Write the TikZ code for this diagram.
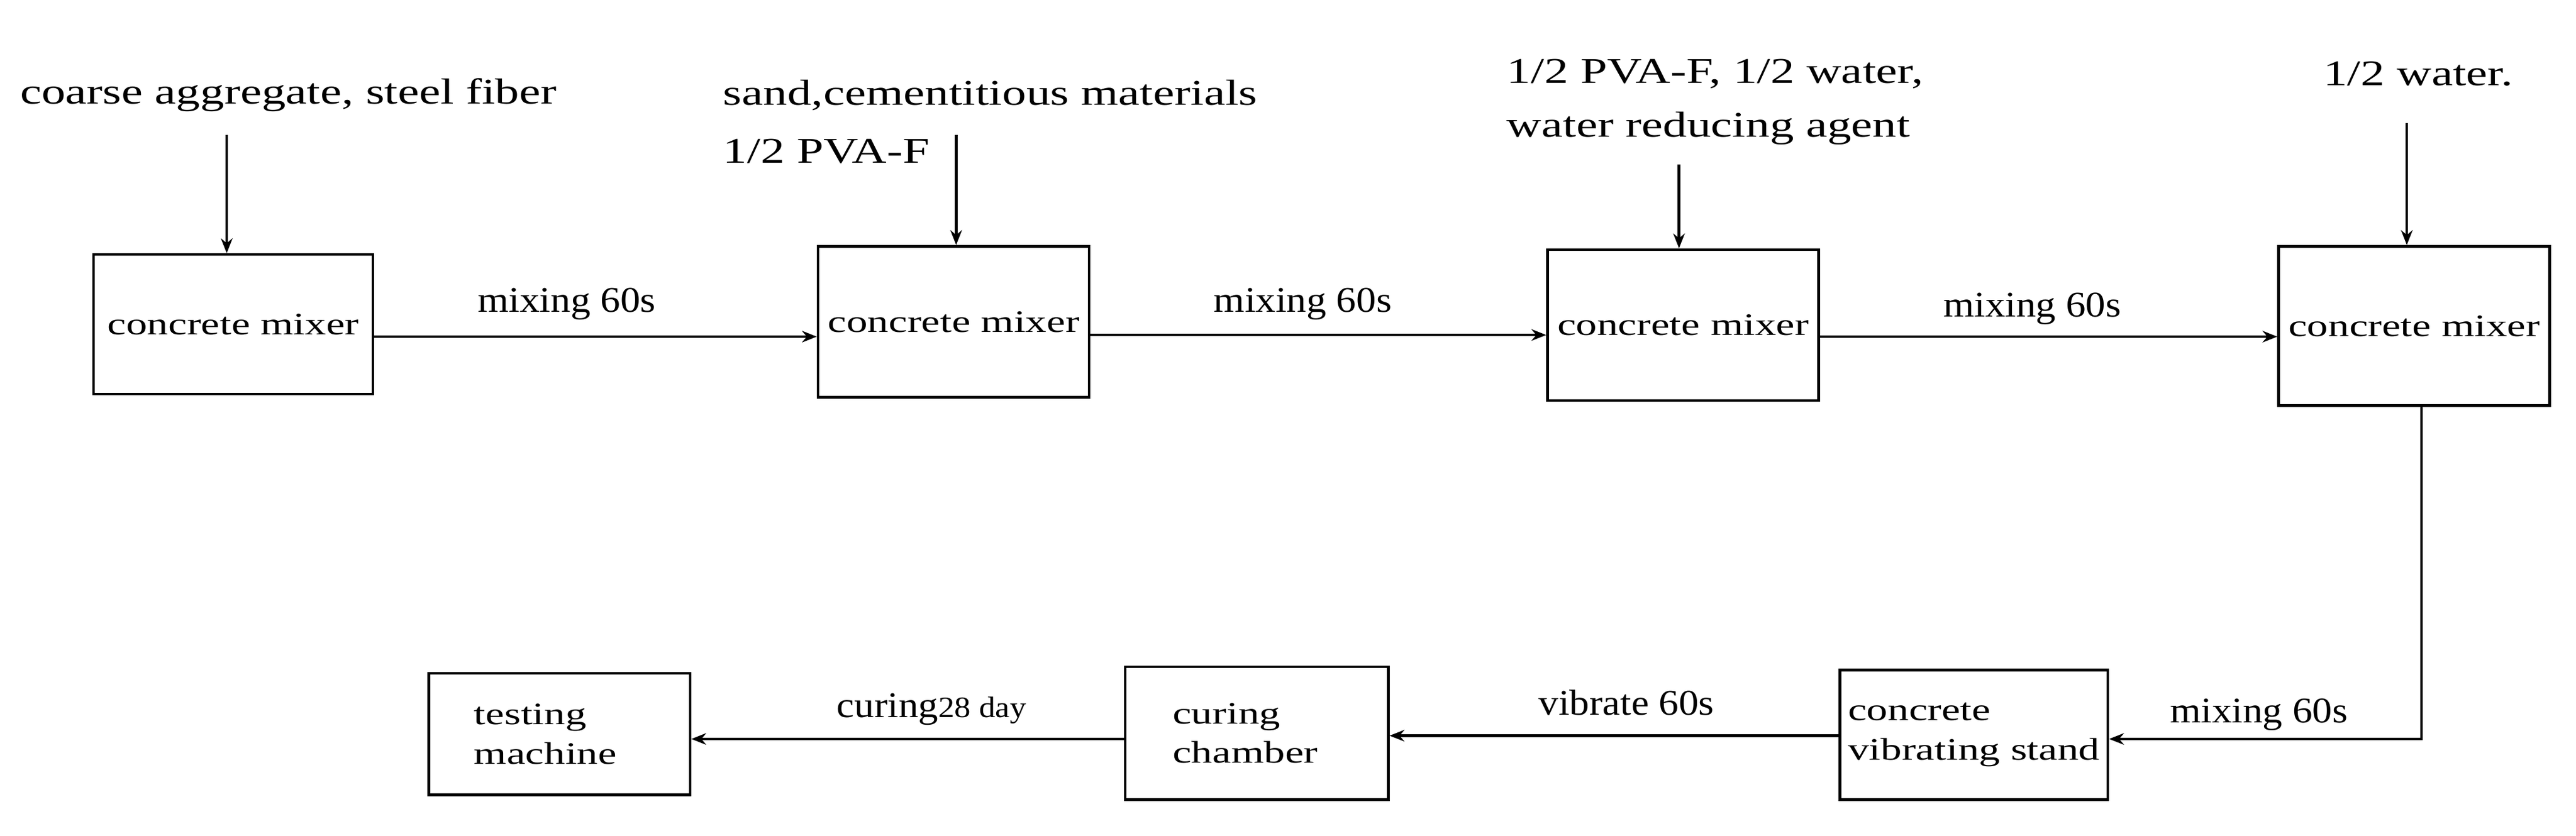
\documentclass[tikz,border=0pt]{standalone}
\usepackage{fontspec}
\setmainfont{Liberation Serif}
\usetikzlibrary{arrows.meta}
\begin{document}
\begin{tikzpicture}[x=1pt,y=-1pt,
  box/.style={draw,line width=1.6pt,minimum width=#1,inner sep=0pt},
  btxt/.style={font=\fontsize{19}{24}\selectfont,align=left,inner sep=0pt,xscale=1.35,transform shape},
  arr/.style={line width=1.6pt,-{Stealth[length=9pt,width=7pt]}},
  lab/.style={font=\fontsize{22}{24}\selectfont,inner sep=0pt,xscale=1.1,transform shape},
  top/.style={font=\fontsize{22}{24}\selectfont,inner sep=0pt,xscale=1.33,transform shape,anchor=west}]
\useasboundingbox (0,0) rectangle (1568,509);
\node[box=170pt,minimum height=85pt] (b1) at (142,197.5) {};
\node[box=165pt,minimum height=92pt] (b2) at (580.5,196) {};
\node[box=165pt,minimum height=92pt] (b3) at (1024.5,198) {};
\node[box=165pt,minimum height=97pt] (b4) at (1469.5,198.5) {};
\node[box=163pt,minimum height=79pt] (b5) at (1201.5,447.5) {};
\node[box=160pt,minimum height=81pt] (b6) at (765,446.5) {};
\node[box=159pt,minimum height=74pt] (b7) at (340.5,447) {};
\node[btxt] (x1) at (b1) {concrete mixer};
\node[btxt] (x2) at (b2) {concrete mixer};
\node[btxt] (x3) at (b3) {concrete mixer};
\node[btxt] (x4) at (b4) {concrete mixer};
\node[btxt] (x5) at (b5) {concrete\\vibrating stand};
\node[btxt] (x6) at (758,446.5) {curing\\chamber};
\node[btxt] (x7) at (332,447) {testing\\machine};
\draw[arr] (b1.east|-0,205) -- (b2.west|-0,205);
\node[lab] (l1) at (345,185) {mixing 60s};
\draw[arr] (b2.east|-0,204) -- (b3.west|-0,204);
\node[lab] (l2) at (793,185) {mixing 60s};
\draw[arr] (b3.east|-0,205) -- (b4.west|-0,205);
\node[lab] (l3) at (1237,188) {mixing 60s};
\coordinate (c1) at (1474,450);
\draw[arr] (b4.south-|c1) -- (c1) -- (b5.east|-c1);
\node[lab] (l4) at (1375,435) {mixing 60s};
\draw[arr] (b5.west|-0,448) -- (b6.east|-0,448);
\node[lab] (l5) at (990,428) {vibrate 60s};
\draw[arr] (b6.west|-0,450) -- (b7.east|-0,450);
\node[lab] (l6) at (567,432) {curing\fontsize{18}{20}\selectfont 28 day};
\node[top] (t1) at (12,58) {coarse aggregate, steel fiber};
\coordinate (a1) at (138,82);
\draw[arr] (a1) -- (b1.north-|a1);
\node[top] (t2) at (440,58) {sand,cementitious materials};
\node[top] (t2b) at (440,92) {1/2 PVA-F};
\coordinate (a2) at (582,82);
\draw[arr] (a2) -- (b2.north-|a2);
\node[top] (t3) at (917,45) {1/2 PVA-F, 1/2 water,};
\node[top] (t3b) at (917,78) {water reducing agent};
\coordinate (a3) at (1022,100);
\draw[arr] (a3) -- (b3.north-|a3);
\node[top] (t4) at (1414,45) {1/2 water.};
\coordinate (a4) at (1465,75);
\draw[arr] (a4) -- (b4.north-|a4);
\end{tikzpicture}
\end{document}
